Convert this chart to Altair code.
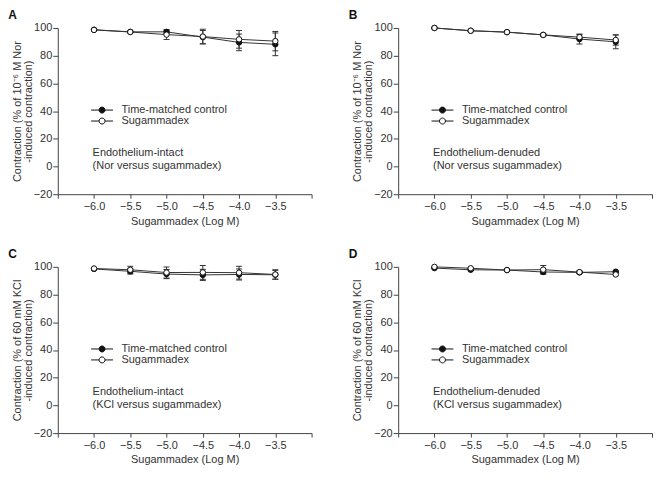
import altair as alt
import pandas as pd

# ---------------- data ----------------
doses = [-6.0, -5.5, -5.0, -4.5, -4.0, -3.5]
series_names = ["Time-matched control", "Sugammadex"]
panel_labels = ["A", "B", "C", "D"]

a_ctrl_mean = [98.7, 97.2, 97.2, 93.4, 89.6, 88.2]
a_ctrl_sem = [0.5, 0.6, 1.2, 4.8, 6.0, 8.2]
a_sug_mean = [98.6, 97.1, 95.2, 93.8, 91.8, 90.5]
a_sug_sem = [0.5, 0.6, 3.5, 5.3, 6.4, 7.0]

b_ctrl_mean = [100.0, 98.0, 97.0, 95.0, 92.0, 90.0]
b_ctrl_sem = [0.3, 0.4, 0.5, 0.8, 3.6, 5.0]
b_sug_mean = [100.0, 98.0, 97.0, 95.0, 93.4, 91.3]
b_sug_sem = [0.3, 0.4, 0.5, 0.8, 1.8, 3.7]

c_ctrl_mean = [98.5, 96.8, 94.8, 94.2, 94.5, 94.3]
c_ctrl_sem = [0.5, 2.0, 3.3, 4.0, 4.0, 3.2]
c_sug_mean = [98.8, 97.9, 95.9, 96.0, 95.8, 94.5]
c_sug_sem = [0.5, 2.5, 4.0, 5.0, 4.6, 3.4]

d_ctrl_mean = [99.1, 97.9, 97.7, 96.3, 96.0, 96.5]
d_ctrl_sem = [0.3, 0.5, 0.4, 1.5, 0.8, 0.5]
d_sug_mean = [100.0, 99.0, 97.7, 98.0, 96.2, 94.5]
d_sug_sem = [0.3, 0.4, 0.4, 3.0, 0.8, 0.5]

y_titles_nor = ["Contraction (% of  10\u207b\u2076 M Nor", "-induced contraction)"]
y_titles_kcl = ["Contraction (% of  60 mM KCl", "-induced contraction)"]
notes = [
    "Endothelium-intact\n(Nor versus sugammadex)",
    "Endothelium-denuded\n(Nor versus sugammadex)",
    "Endothelium-intact\n(KCl versus sugammadex)",
    "Endothelium-denuded\n(KCl versus sugammadex)",
]
x_ticks = [-6.5, -6.0, -5.5, -5.0, -4.5, -4.0, -3.5, -3.0]
y_ticks = [-20, 0, 20, 40, 60, 80, 100]

# ---------------- style ----------------
FONT = "Liberation Sans"
INK = "#333333"
W, H = 255, 167


def make_df(cm, cs, sm, ss):
    rows = []
    for name, m, s in [(series_names[0], cm, cs), (series_names[1], sm, ss)]:
        for d, mv, sv in zip(doses, m, s):
            rows.append(dict(series=name, dose=d, mean=mv, lo=mv - sv, hi=mv + sv))
    return pd.DataFrame(rows)


def panel(df, label, ytitle, note):
    xscale = alt.Scale(domain=[-6.5, -3.0], nice=False, zero=False)
    xaxis = alt.Axis(
        title="Sugammadex (Log M)",
        values=x_ticks,
        format=".1f",
        labelExpr="(datum.value < -6.2 || datum.value > -3.2) ? '' : datum.label",
        grid=False,
        tickSize=4,
        labelPadding=2,
        titlePadding=4,
    )
    yscale = alt.Scale(domain=[-20, 100], nice=False, zero=False)
    yaxis = alt.Axis(
        title=ytitle,
        values=y_ticks,
        grid=False,
        tickSize=5,
        labelPadding=1,
        titlePadding=0,
        titleLineHeight=11,
    )
    x = alt.X("dose:Q", scale=xscale, axis=xaxis)
    base = alt.Chart(df)
    line = base.mark_line(color=INK, strokeWidth=1).encode(
        x=x, y=alt.Y("mean:Q", scale=yscale, axis=yaxis), detail="series:N"
    )
    bars = base.mark_rule(color=INK, strokeWidth=1).encode(
        x=x, y=alt.Y("lo:Q", scale=yscale, axis=yaxis), y2="hi:Q"
    )
    cap_hi = base.mark_tick(orient="horizontal", size=6, thickness=1, color=INK, opacity=1).encode(
        x=x, y=alt.Y("hi:Q", scale=yscale, axis=yaxis)
    )
    cap_lo = base.mark_tick(orient="horizontal", size=6, thickness=1, color=INK, opacity=1).encode(
        x=x, y=alt.Y("lo:Q", scale=yscale, axis=yaxis)
    )
    pts = base.mark_circle(size=30, stroke="#111111", strokeWidth=1, opacity=1).encode(
        x=x,
        y=alt.Y("mean:Q", scale=yscale, axis=yaxis),
        fill=alt.Fill(
            "series:N",
            scale=alt.Scale(domain=series_names, range=["#111111", "#ffffff"]),
            legend=alt.Legend(
                title=None,
                orient="none",
                legendX=39,
                legendY=77,
                symbolType="M-2.75,0H-0.75M0.75,0H2.75M0.75,0A0.75,0.75,0,1,1,-0.75,0A0.75,0.75,0,1,1,0.75,0Z",
                symbolSize=64,
                symbolStrokeColor="#111111",
                symbolStrokeWidth=1,
                symbolOpacity=1,
                labelFont=FONT,
                labelFontSize=11,
                labelColor=INK,
                labelOffset=14,
                rowPadding=-2,
            ),
        ),
    )
    txt = alt.Chart(pd.DataFrame({"note": [note]})).mark_text(
        align="left", baseline="top", lineBreak="\n", font=FONT, fontSize=11,
        color=INK, lineHeight=13
    ).encode(x=alt.value(35), y=alt.value(120), text="note:N")

    return alt.layer(line, bars, cap_hi, cap_lo, pts, txt).properties(
        width=W,
        height=H,
        title=alt.TitleParams(
            label, anchor="start", frame="bounds", fontSize=12, fontWeight="bold",
            font=FONT, offset=0, dx=-3, color="#111111"
        ),
    )


pA = panel(make_df(a_ctrl_mean, a_ctrl_sem, a_sug_mean, a_sug_sem), panel_labels[0], y_titles_nor, notes[0])
pB = panel(make_df(b_ctrl_mean, b_ctrl_sem, b_sug_mean, b_sug_sem), panel_labels[1], y_titles_nor, notes[1])
pC = panel(make_df(c_ctrl_mean, c_ctrl_sem, c_sug_mean, c_sug_sem), panel_labels[2], y_titles_kcl, notes[2])
pD = panel(make_df(d_ctrl_mean, d_ctrl_sem, d_sug_mean, d_sug_sem), panel_labels[3], y_titles_kcl, notes[3])

row1 = alt.hconcat(pA, pB, spacing=36).resolve_scale(fill="independent").resolve_legend(fill="independent")
row2 = alt.hconcat(pC, pD, spacing=36).resolve_scale(fill="independent").resolve_legend(fill="independent")

chart = (
    alt.vconcat(row1, row2, spacing=22)
    .resolve_scale(fill="independent")
    .resolve_legend(fill="independent")
    .properties(padding=0)
    .configure_view(stroke=None)
    .configure_axis(
        labelFont=FONT,
        titleFont=FONT,
        labelFontSize=11,
        titleFontSize=11,
        titleFontWeight="normal",
        labelColor=INK,
        titleColor=INK,
        domainColor="#444444",
        tickColor="#444444",
        domainWidth=1,
        tickWidth=1,
    )
)

chart.save("out.html", embed_options={"renderer": "svg", "actions": False})
